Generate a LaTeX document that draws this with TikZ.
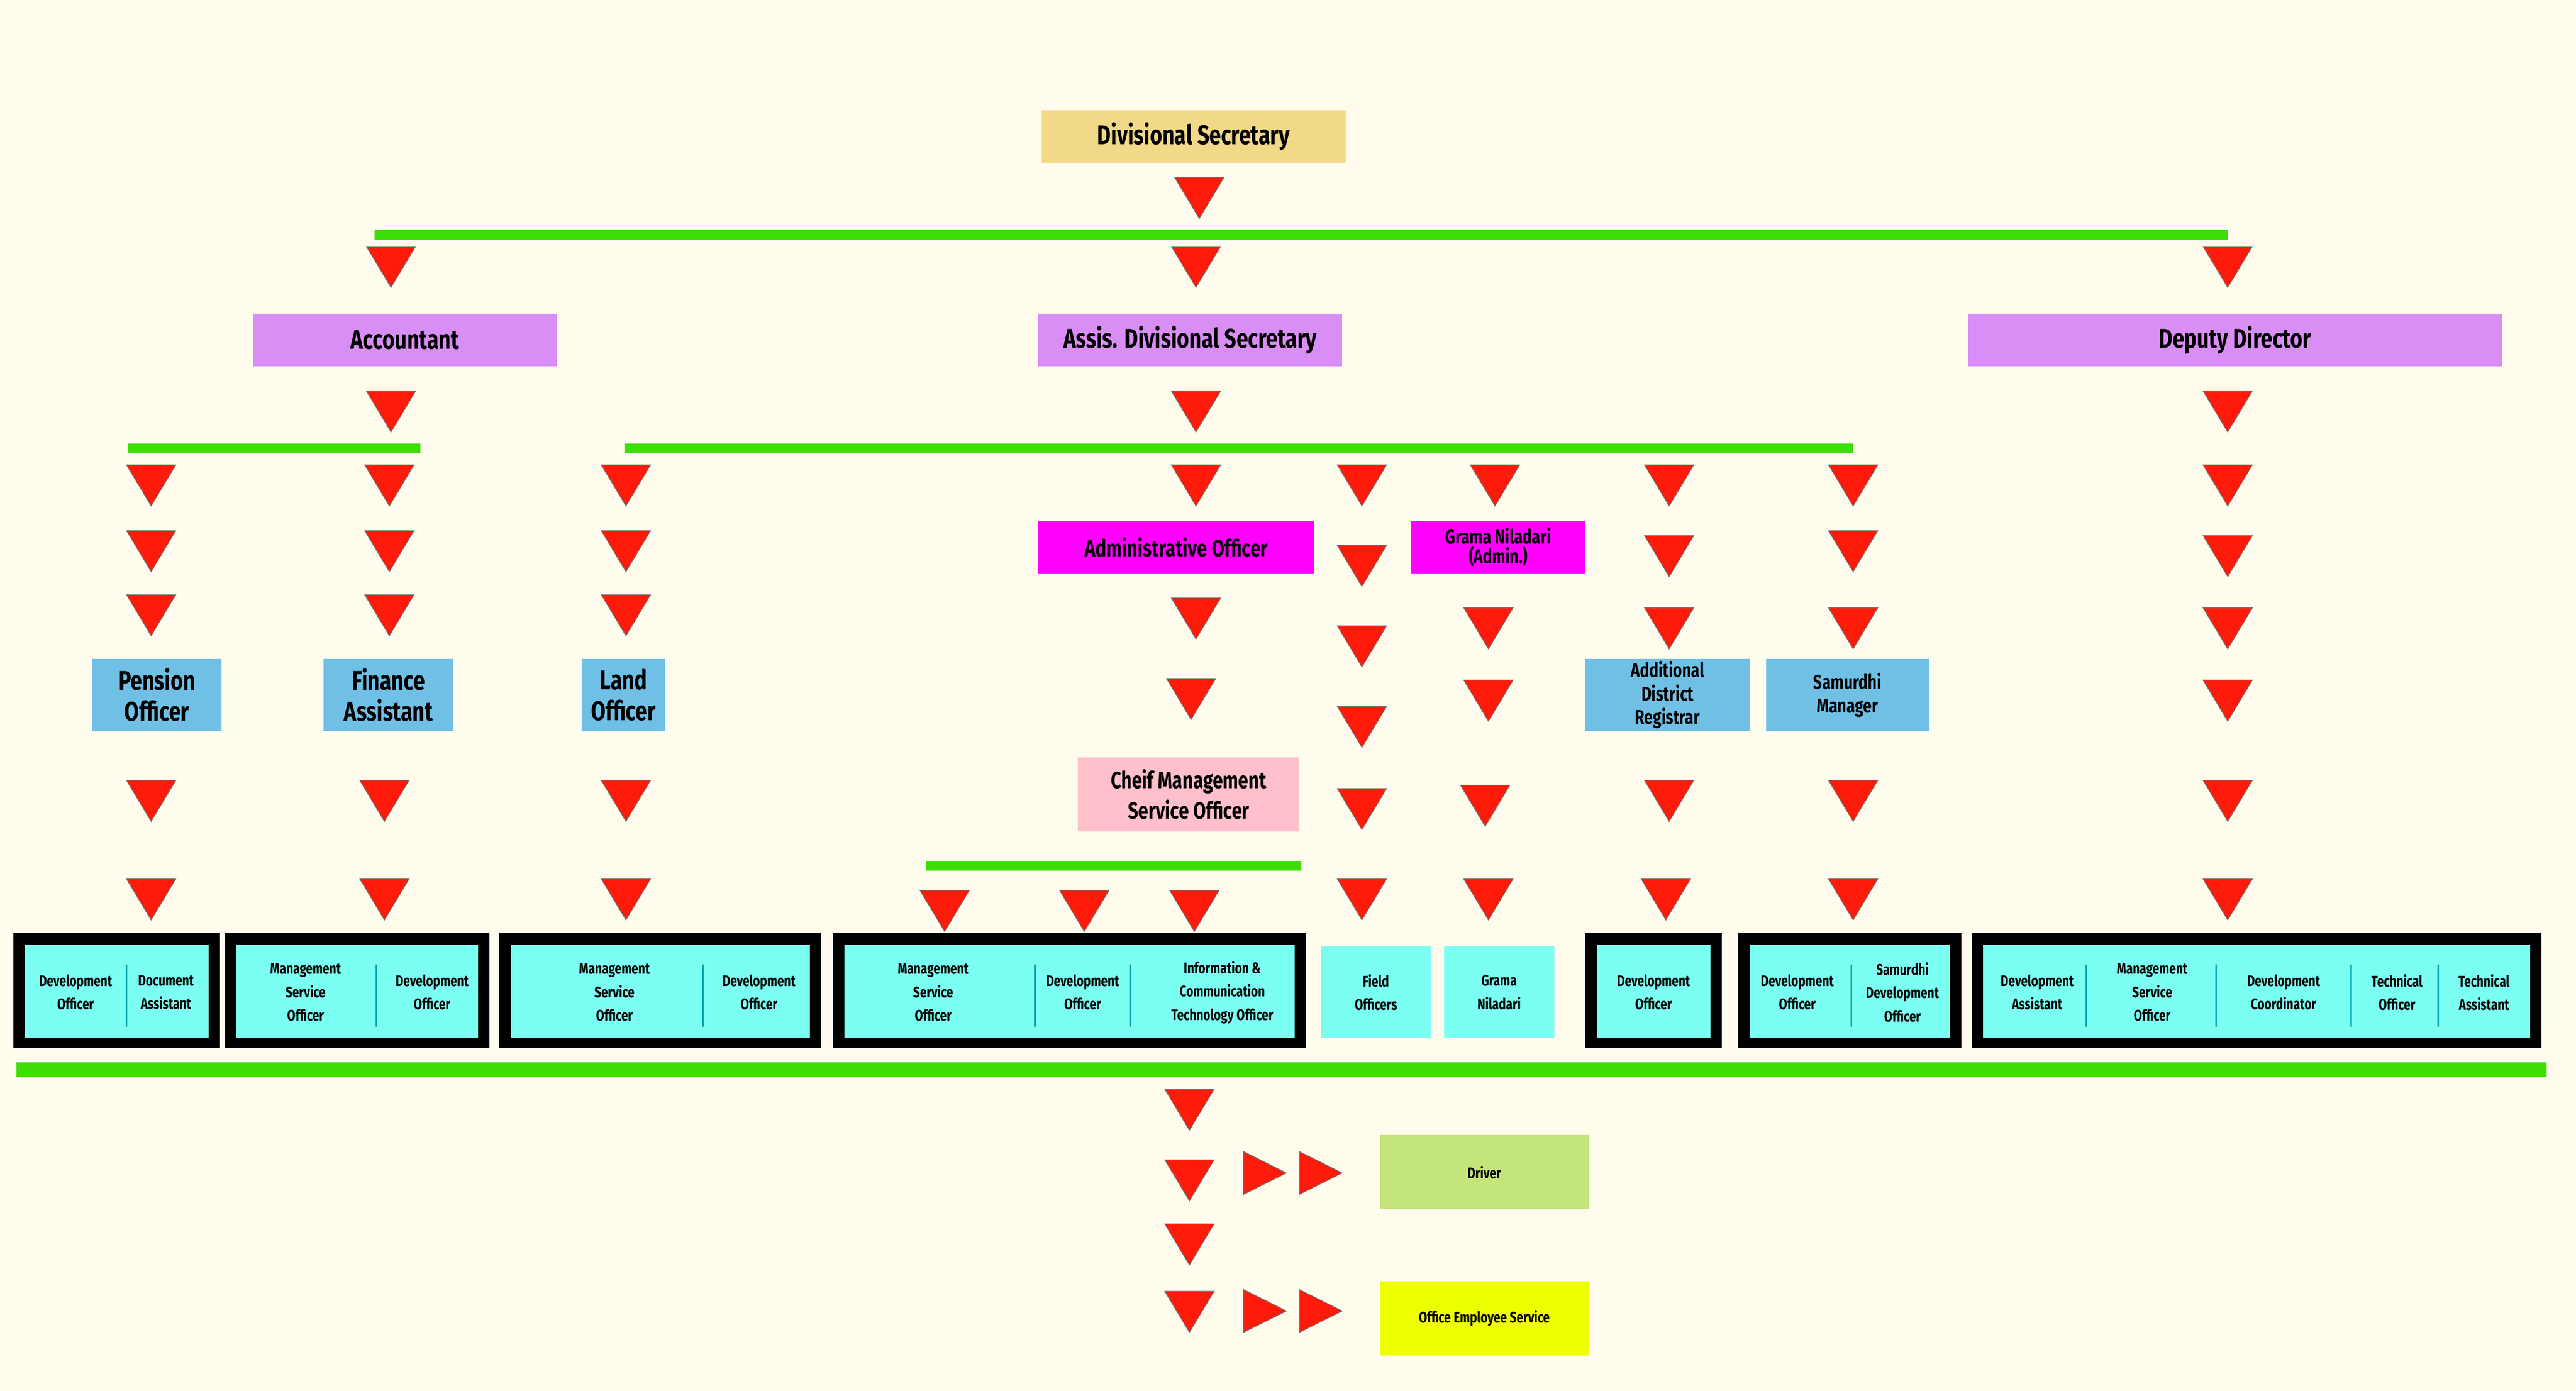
\documentclass[tikz,border=0pt]{standalone}
\usepackage{fontspec}
\setmainfont{Fira Sans}[BoldFont={Fira Sans Bold},FakeStretch=0.78]
\begin{document}
\begin{tikzpicture}[x=0.03189cm,y=-0.03189cm,
  sz/.style 2 args={minimum width=#1*0.03189cm, minimum height=#2*0.03189cm, inner sep=0pt},
  lbl/.style={font=\bfseries\fontsize{15}{17}\selectfont, text=black, align=center},
  sm/.style={font=\bfseries\fontsize{8.5}{13}\selectfont, text=black, align=center},
  gline/.style={draw=gr, line width=6*0.03189cm},
  cell/.style={fill=cy},
  divl/.style={draw=teal!70!cyan, line width=0.9pt}]
\definecolor{bg}{HTML}{FFFCEE}
\definecolor{gr}{HTML}{3EDD05}
\definecolor{tr}{HTML}{FF1A0A}
\definecolor{gold}{HTML}{F2D98A}
\definecolor{vio}{HTML}{D98EF5}
\definecolor{blu}{HTML}{70C0E6}
\definecolor{cy}{HTML}{7BFFF2}
\definecolor{pinkk}{HTML}{FFC0CB}
\definecolor{lime}{HTML}{C3E57A}
\definecolor{yel}{HTML}{EEFF00}
\definecolor{mag}{HTML}{FF00FF}
\fill[bg] (0,0) rectangle (1568,846.7);
\useasboundingbox (0,0) rectangle (1568,846.7);
\newcommand\dtri[2]{\fill[tr,draw=black!55,line width=0.4pt] ({#1-15},{#2}) -- ({#1+15},{#2}) -- ({#1},{#2+25}) -- cycle;}
\newcommand\rtri[2]{\fill[tr,draw=black!55,line width=0.4pt] ({#1},{#2-13}) -- ({#1},{#2+13}) -- ({#1+26},{#2}) -- cycle;}
% top level
\node[sz={185}{32},fill=gold,lbl] (ds) at (726.5,83) {Divisional Secretary};
\dtri{730}{108}
\draw[gline] (228,143) -- (1356,143);
\dtri{238}{150}\dtri{728}{150}\dtri{1356}{150}
\node[sz={185}{32},fill=vio,lbl] (acc) at (246.5,207) {Accountant};
\node[sz={185}{32},fill=vio,lbl] (ads) at (724.5,207) {Assis. Divisional Secretary};
\node[sz={325}{32},fill=vio,lbl] (dd) at (1360.5,207) {Deputy Director};
\dtri{238}{238}\dtri{728}{238}\dtri{1356}{238}
\draw[gline] (78,273) -- (256,273);
\draw[gline] (380,273) -- (1128,273);
% column triangles
\foreach \x in {92,237,381,728,829,910,1016,1128,1356} {\dtri{\x}{283}}
\foreach \x in {92,237,381,1128} {\dtri{\x}{323}}
\dtri{829}{332}\dtri{1016}{326}\dtri{1356}{326}
\foreach \x in {92,237,381} {\dtri{\x}{362}}
\dtri{728}{364}\dtri{829}{381}
\foreach \x in {906,1016,1128,1356} {\dtri{\x}{370}}
\node[sz={168}{32},fill=mag,font=\bfseries\fontsize{13}{15}\selectfont,align=center] (ao) at (716,333) {Administrative Officer};
\node[sz={106}{32},fill=mag,font=\bfseries\fontsize{11}{11}\selectfont,align=center] (gna) at (912,333) {Grama Niladari\\(Admin.)};
\node[sz={79}{44},fill=blu,lbl] (po) at (95.5,423) {Pension\\Officer};
\node[sz={79}{44},fill=blu,lbl] (fa) at (236.5,423) {Finance\\Assistant};
\node[sz={51}{44},fill=blu,lbl] (lo) at (379.5,423) {Land\\Officer};
\node[sz={100}{44},fill=blu,font=\bfseries\fontsize{11}{13}\selectfont,align=center] (adr) at (1015,423) {Additional\\District\\Registrar};
\node[sz={99}{44},fill=blu,font=\bfseries\fontsize{11}{13}\selectfont,align=center] (sm) at (1124.5,423) {Samurdhi\\Manager};
\dtri{725}{413}\dtri{829}{430}\dtri{906}{414}\dtri{1356}{414}
\node[sz={135}{45},fill=pinkk,font=\bfseries\fontsize{13}{17}\selectfont,align=center] (cms) at (723.5,483.5) {Cheif Management\\Service Officer};
\foreach \x in {92,234,381,1016,1128,1356} {\dtri{\x}{475}}
\dtri{829}{480}\dtri{904}{478}
\draw[gline] (564,527) -- (792,527);
\foreach \x in {92,234,381,829,906,1014,1128,1356} {\dtri{\x}{535}}
\foreach \x in {575,660,727} {\dtri{\x}{542}}
% bottom boxes
\foreach \a/\b in {8/134,137/298,304/500,507/795,965/1048,1058/1194,1200/1547}
  {\fill[black] (\a,568) rectangle (\b,638);
   \fill[cy] (\a+7,575) rectangle (\b-7,632);}
\fill[cy] (804,576) rectangle (871,632);
\fill[cy] (879,576) rectangle (946,632);
\foreach \x in {77,229,428,630,688,1127,1270,1349,1431,1484}
  {\draw[divl] (\x,587) -- (\x,625);}
\node[sm] (c1) at (46,604) {Development\\Officer};
\node[sm] (c2) at (101,604) {Document\\Assistant};
\node[sm] (c3) at (186,604) {Management\\Service\\Officer};
\node[sm] (c4) at (263,604) {Development\\Officer};
\node[sm] (c5) at (374,604) {Management\\Service\\Officer};
\node[sm] (c6) at (462,604) {Development\\Officer};
\node[sm] (c7) at (568,604) {Management\\Service\\Officer};
\node[sm] (c8) at (659,604) {Development\\Officer};
\node[sm] (c9) at (744,604) {Information \&\\Communication\\Technology Officer};
\node[sm] (c10) at (837.5,604) {Field\\Officers};
\node[sm] (c11) at (912.5,604) {Grama\\Niladari};
\node[sm] (c12) at (1006.5,604) {Development\\Officer};
\node[sm] (c13) at (1094,604) {Development\\Officer};
\node[sm] (c14) at (1158,604) {Samurdhi\\Development\\Officer};
\node[sm] (c15) at (1240,604) {Development\\Assistant};
\node[sm] (c16) at (1310,604) {Management\\Service\\Officer};
\node[sm] (c17) at (1390,604) {Development\\Coordinator};
\node[sm] (c18) at (1459,604) {Technical\\Officer};
\node[sm] (c19) at (1512,604) {Technical\\Assistant};
% bottom
\draw[draw=gr, line width=9*0.03189cm] (10,651) -- (1550,651);
\dtri{724}{663}\dtri{724}{706}\dtri{724}{745}\dtri{724}{786}
\rtri{757}{714}\rtri{791}{714}\rtri{757}{798}\rtri{791}{798}
\node[sz={127}{45},fill=lime,sm] (drv) at (903.5,713.5) {Driver};
\node[sz={127}{45},fill=yel,sm] (oes) at (903.5,802.5) {Office Employee Service};
\end{tikzpicture}
\end{document}
